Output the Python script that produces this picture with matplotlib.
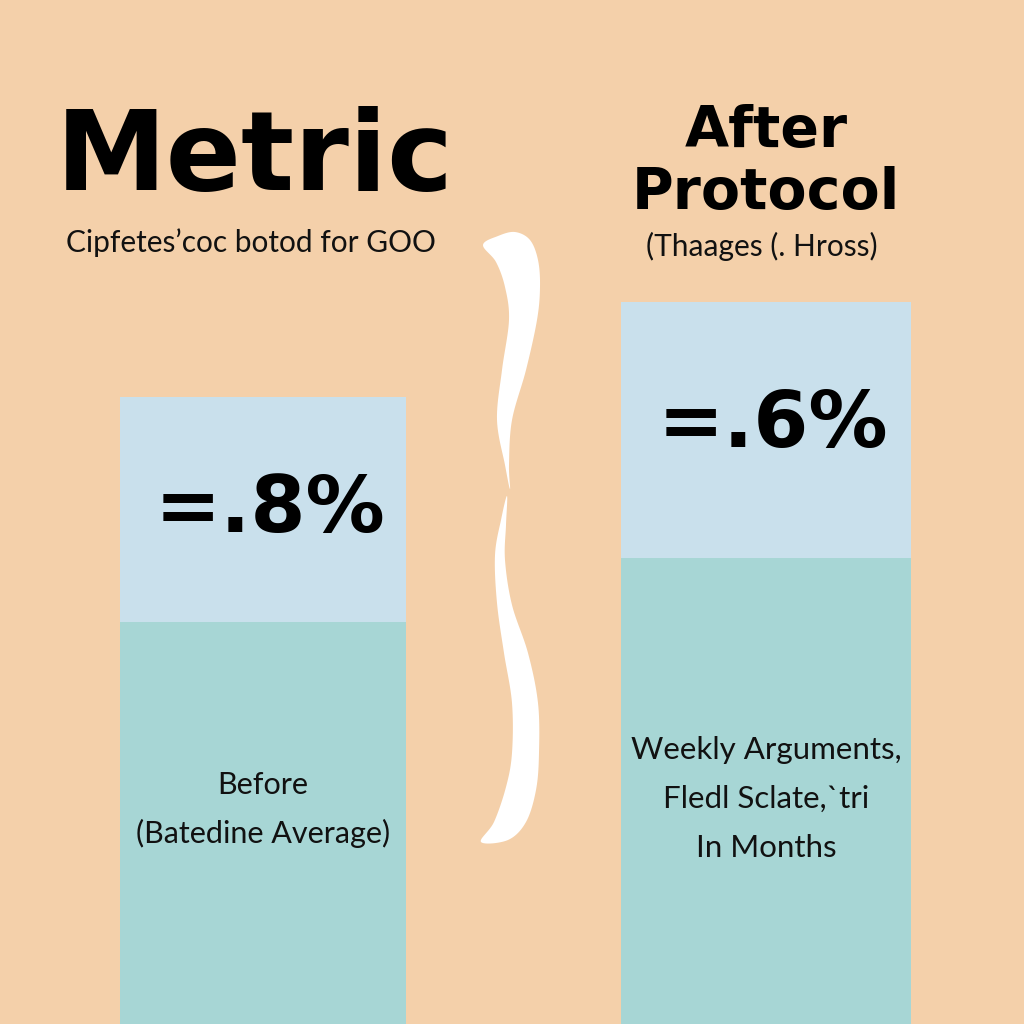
import numpy as np
import matplotlib
matplotlib.use("Agg")
import matplotlib.pyplot as plt
from matplotlib.patches import Polygon

# ---- data ----
categories = ["Before", "After"]
base_values = [402, 466]      # teal lower segment
top_values = [225, 256]       # light-blue upper segment
value_labels = ["=.8%", "=.6%"]
bar_labels = [["Before", "(Batedine Average)"],
              ["Weekly Arguments,", "Fledl Sclate,\u02cbtri", "In Months"]]
title_left = "Metric"
subtitle_left = "Cipfetes\u2019coc botod for GOO"
title_right = ["After", "Protocol"]
subtitle_right = "(Thaages (. Hross)"

BG = "#F4D0AA"
TEAL = "#A7D6D5"
BLUE = "#C9E0EC"

fig = plt.figure(figsize=(10.24, 10.24), dpi=100, facecolor=BG)
ax = fig.add_axes([0, 0, 1, 1])
ax.set_facecolor(BG)
ax.set_xlim(0, 1024)
ax.set_ylim(0, 1024)
ax.axis("off")

xpos = [263, 766]
widths = [286, 290]
ax.bar(xpos, base_values, width=widths, color=TEAL, linewidth=0)
ax.bar(xpos, top_values, bottom=base_values, width=widths, color=BLUE, linewidth=0)

def Y(p):
    return 1024 - p

bold = dict(family="DejaVu Sans", fontweight="bold", color="black", ha="center", va="center")
light = dict(family="Lato", color="#111111", ha="center", va="center")

ax.text(255, Y(160), title_left, fontsize=80, **bold)
ax.text(251, Y(243), subtitle_left, fontsize=21.5, **light)
ax.text(766, Y(132), title_right[0], fontsize=41, **bold)
ax.text(766, Y(193), title_right[1], fontsize=41, **bold)
ax.text(762, Y(246), subtitle_right, fontsize=21.5, **light)

ax.text(270, Y(510), value_labels[0], fontsize=57, **bold)
ax.text(773, Y(425), value_labels[1], fontsize=57, **bold)

ax.text(263, Y(785), bar_labels[0][0], fontsize=22, **light)
ax.text(263, Y(833), bar_labels[0][1], fontsize=22, **light)
for i, s in enumerate(bar_labels[1]):
    ax.text(766, Y(750 + 49 * i), s, fontsize=22.5, **light)

# decorative white squiggle (outline in pixel coordinates)
def smooth_closed(pts, n=12):
    pts = np.asarray(pts, float)
    out = []
    N = len(pts)
    for i in range(N):
        p0, p1, p2, p3 = pts[i - 1], pts[i], pts[(i + 1) % N], pts[(i + 2) % N]
        for t in np.linspace(0, 1, n, endpoint=False):
            t2, t3 = t * t, t * t * t
            out.append(0.5 * ((2 * p1) + (-p0 + p2) * t + (2 * p0 - 5 * p1 + 4 * p2 - p3) * t2
                              + (-p0 + 3 * p1 - 3 * p2 + p3) * t3))
    return np.array(out)

top_half = [(483, 245), (498, 236), (515, 232), (530, 240), (538, 260), (540, 287), (537, 320),
            (526, 370), (512, 420), (509, 465), (510, 489), (505, 465), (497, 420), (502, 370),
            (509, 320), (505, 287), (496, 262)]
bot_half = [(507, 496), (506, 525), (505, 560), (512, 605), (528, 653), (538, 703), (539, 753),
            (536, 790), (526, 822), (508, 840), (481, 842), (494, 822), (506, 787), (512, 753),
            (512, 703), (504, 653), (497, 603), (495, 555), (501, 520)]
for shape in (top_half, bot_half):
    s = smooth_closed(shape)
    s[:, 1] = 1024 - s[:, 1]
    ax.add_patch(Polygon(s, closed=True, facecolor="white", edgecolor="none"))

fig.savefig("out.png", dpi=100, facecolor=BG)
